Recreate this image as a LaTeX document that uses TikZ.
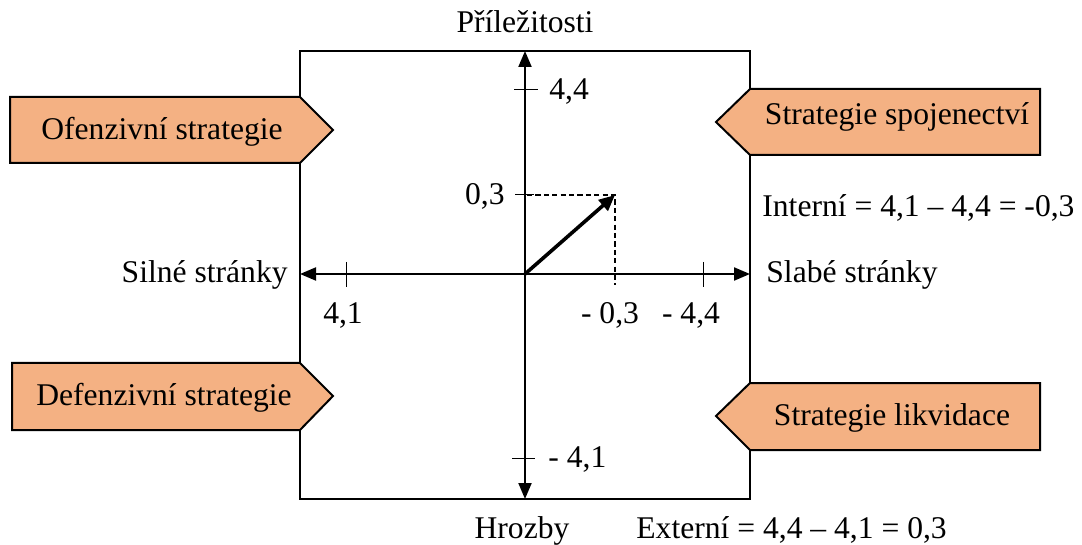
\documentclass[tikz,border=0pt]{standalone}
\usepackage{fontspec}
\setmainfont{Liberation Serif}
\usetikzlibrary{arrows.meta}
\definecolor{boxfill}{HTML}{F4B183}
\begin{document}
\begin{tikzpicture}[x=0.5pt,y=-0.5pt,
  lbl/.style={font=\fontsize{15.8}{19}\selectfont, inner sep=0pt, anchor=base},
  frame/.style={draw=black, line width=1pt},
  axis/.style={line width=1pt, {Triangle[length=8pt,width=6.5pt]}-{Triangle[length=8pt,width=6.5pt]}},
  vec/.style={line width=1.8pt, -{Triangle[length=8pt,width=7pt]}},
  guide/.style={line width=1pt, dash pattern=on 2.6pt off 1.6pt},
  tick/.style={line width=0.5pt},
  strat/.style={draw=black, line width=1pt, fill=boxfill, line join=miter}]
\useasboundingbox (0,0) rectangle (1082,545);

% quadrant frame
\draw[frame] (300,51) rectangle (750,499);

% strategy banners
\draw[strat] (10,97) -- (300,97) -- (333,130) -- (300,163) -- (10,163) -- cycle;
\draw[strat] (12,363) -- (300,363) -- (333,396) -- (300,430) -- (12,430) -- cycle;
\draw[strat] (1040,89) -- (750,89) -- (716,122) -- (750,155) -- (1040,155) -- cycle;
\draw[strat] (1040,383) -- (750,383) -- (716,416) -- (750,450) -- (1040,450) -- cycle;
\node[lbl] (ofenz) at (162,140) {Ofenzivní strategie};
\node[lbl] (defenz) at (164,405) {Defenzivní strategie};
\node[lbl] (spoj) at (897,125) {Strategie spojenectví};
\node[lbl] (likv) at (892,425) {Strategie likvidace};

% axes
\coordinate (O) at (525,274);
\coordinate (top) at (525,51);
\coordinate (bot) at (525,499);
\coordinate (left) at (300,274);
\coordinate (right) at (750,274);
\draw[axis] (bot) -- (top);
\draw[axis] (left) -- (right);

% tick marks
\draw[tick] (514,90) -- (538,90);
\draw[tick] (512,458) -- (535,458);
\draw[tick] (346,262) -- (346,287);
\draw[tick] (703,262) -- (703,287);
\draw[tick] (515,195) -- (534,195);

% resulting position
\coordinate (P) at (615,195);
\coordinate (Py) at (527,195);
\coordinate (Px) at (615,285);
\draw[guide] (Py) -- (P) -- (Px);
\draw[vec] (O) -- (P);

% axis captions
\node[lbl] (prilez) at (525,33) {Příležitosti};
\node[lbl] (hrozby) at (522,538) {Hrozby};
\node[lbl, anchor=base east] (silne) at (288,283) {Silné stránky};
\node[lbl, anchor=base west] (slabe) at (766,283) {Slabé stránky};

% tick values
\node[lbl, anchor=base west] (v44) at (549,100) {4,4};
\node[lbl, anchor=base east] (v03) at (505,205) {0,3};
\node[lbl, anchor=base west] (vm41) at (548,467) {- 4,1};
\node[lbl] (v41) at (343,323) {4,1};
\node[lbl] (vm03) at (610,323) {- 0,3};
\node[lbl] (vm44) at (691,323) {- 4,4};

% balances
\node[lbl, anchor=base west] (interni) at (762,217) {Interní = 4,1 – 4,4 = -0,3};
\node[lbl, anchor=base west] (externi) at (636,538) {Externí = 4,4 – 4,1 = 0,3};
\end{tikzpicture}
\end{document}
